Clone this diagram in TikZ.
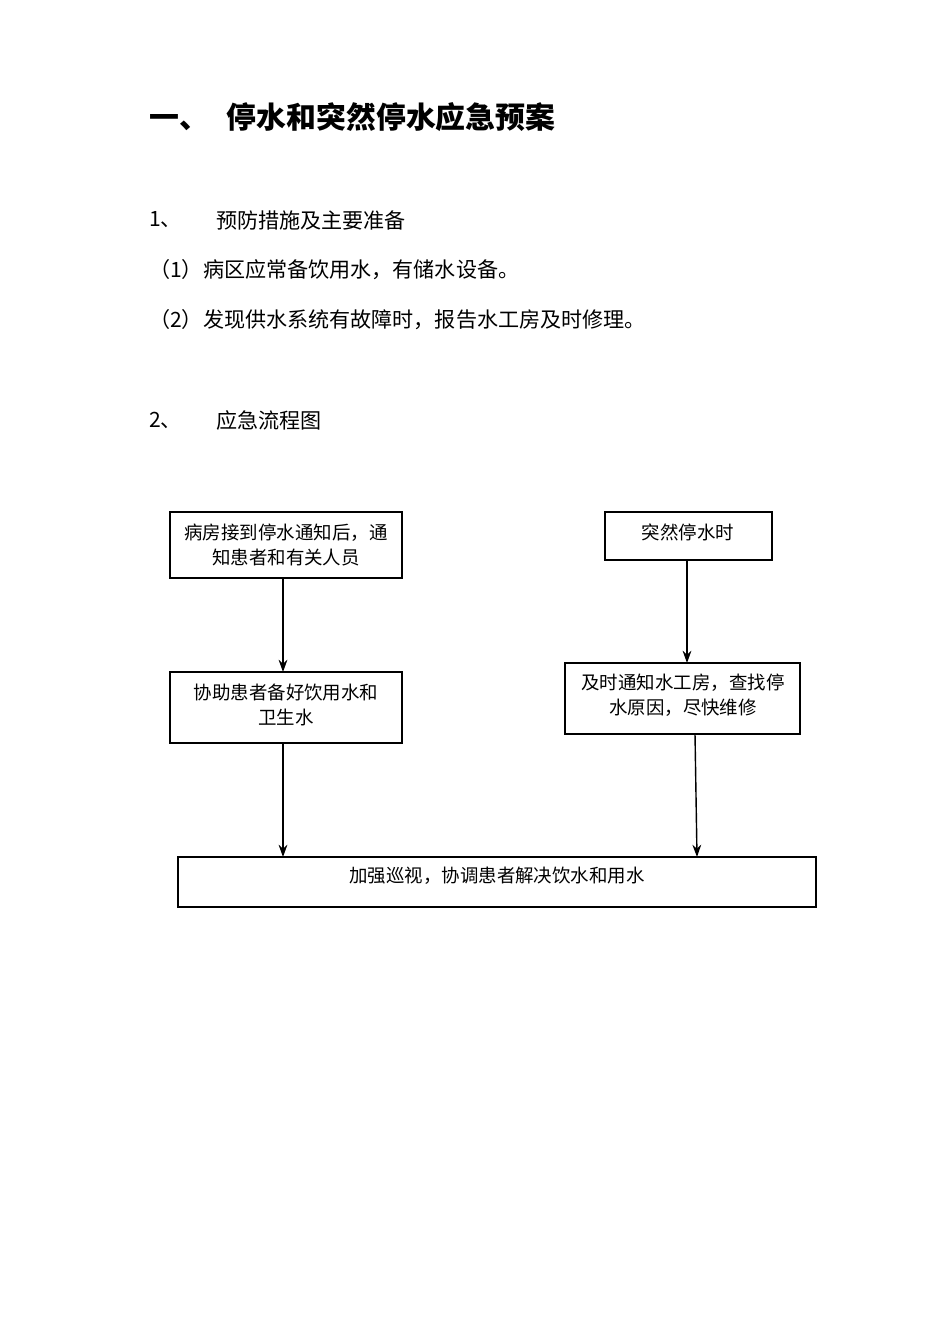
\documentclass[tikz,border=0pt]{standalone}
\usepackage{fontspec}
\setmainfont{Noto Sans CJK SC}
\newfontfamily\cjk{Noto Sans CJK SC}
\usetikzlibrary{arrows.meta}
\begin{document}
\begin{tikzpicture}[x=0.02cm,y=-0.02cm,
  box/.style={draw,thick,inner sep=0pt},
  btext/.style={font=\fontsize{10.5pt}{14pt}\selectfont,align=center},
  body/.style={anchor=west,font=\fontsize{12pt}{14pt}\selectfont},
  arr/.style={-{Stealth[length=7pt,width=5pt]},thick}]
\useasboundingbox (0,0) rectangle (950,1344);
\fill[white] (0,0) rectangle (950,1344);
\node[anchor=west,font=\fontsize{17pt}{20pt}\selectfont\bfseries] (title) at (143,117) {一、\hspace{0.6em}停水和突然停水应急预案};
\node[body] (n1) at (143,220) {1、};
\node[body] (t1) at (210,220) {预防措施及主要准备};
\node[body] (p1) at (143,270) {（1）病区应常备饮用水，有储水设备。};
\node[body] (p2) at (143,320) {（2）发现供水系统有故障时，报告水工房及时修理。};
\node[body] (n2) at (143,420) {2、};
\node[body] (t2) at (210,420) {应急流程图};

\draw[box] (170,512) rectangle (402,578);
\node[btext] (a) at (286,545) {病房接到停水通知后，通\\知患者和有关人员};
\coordinate (aT) at (283,578);
\draw[box] (605,512) rectangle (772,560);
\node[btext] (b) at (688,532) {突然停水时};
\coordinate (bT) at (687,560);
\draw[box] (170,672) rectangle (402,743);
\node[btext] (c) at (286,705) {协助患者备好饮用水和\\卫生水};
\coordinate (cT) at (283,672); \coordinate (cB) at (283,743);
\draw[box] (565,663) rectangle (800,734);
\node[btext] (d) at (683,695) {及时通知水工房，查找停\\水原因，尽快维修};
\coordinate (dT) at (687,663); \coordinate (dB) at (695,734);
\draw[box] (178,857) rectangle (816,907);
\node[btext] (e) at (497,876) {加强巡视，协调患者解决饮水和用水};
\coordinate (e1) at (283,857); \coordinate (e2) at (697,857);
\draw[arr] (aT) -- (cT);
\draw[arr] (bT) -- (dT);
\draw[arr] (cB) -- (e1);
\draw[arr] (dB) -- (e2);
\end{tikzpicture}
\end{document}
